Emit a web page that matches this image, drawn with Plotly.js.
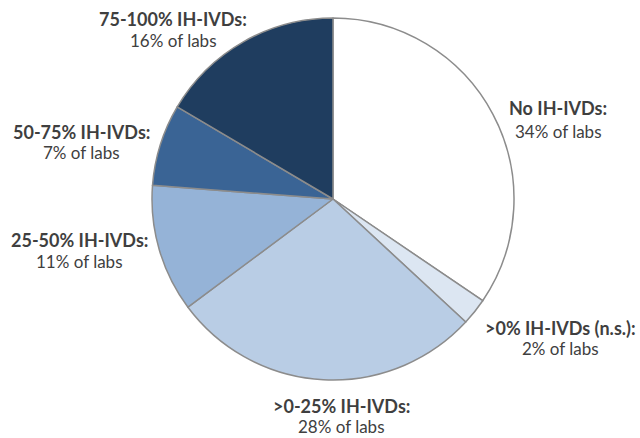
<!DOCTYPE html>
<html>
<head>
<meta charset="utf-8">
<script src="https://cdn.plot.ly/plotly-3.0.1.min.js"></script>
<style>html,body{margin:0;padding:0;background:#fff;}#chart{width:640px;height:438px;}</style>
</head>
<body>
<div id="chart"></div>
<script>
// Data (slice shares, clockwise from 12 o'clock)
const categories = ["No IH-IVDs:", ">0% IH-IVDs (n.s.):", ">0-25% IH-IVDs:", "25-50% IH-IVDs:", "50-75% IH-IVDs:", "75-100% IH-IVDs:"];
const shares = [34.5, 2.4, 27.9, 11.4, 7.3, 16.5];
const shareLabels = ["34% of labs", "2% of labs", "28% of labs", "11% of labs", "7% of labs", "16% of labs"];
const colors = ["#ffffff", "#dce6f2", "#b9cde5", "#95b3d7", "#3a6495", "#1f3d5f"];

// label placement (pixels: centre x, first-line y, second-line y)
const labelPos = [
  [558, 108, 131],
  [560, 327.5, 348],
  [341, 406, 426.5],
  [79, 240, 261],
  [81, 131.5, 152],
  [173, 19.5, 40]
];

const W = 640, H = 438;
const cx = 333, cy = 199, r = 181;

const annotations = [];
categories.forEach((c, i) => {
  const p = labelPos[i];
  annotations.push({
    text: "<b>" + c + "</b>", x: p[0] / W, y: 1 - p[1] / H, xref: "paper", yref: "paper",
    xanchor: "center", yanchor: "middle", showarrow: false,
    font: {family: "Lato, 'Open Sans', sans-serif", size: 18, color: "#3f3f3f"}
  });
  annotations.push({
    text: shareLabels[i], x: p[0] / W, y: 1 - p[2] / H, xref: "paper", yref: "paper",
    xanchor: "center", yanchor: "middle", showarrow: false,
    font: {family: "Lato, 'Open Sans', sans-serif", size: 17, color: "#404040"}
  });
});

const trace = {
  type: "pie",
  values: shares,
  labels: categories,
  sort: false,
  direction: "clockwise",
  rotation: 0,
  textinfo: "none",
  hoverinfo: "none",
  marker: {colors: colors, line: {color: "#8c8c8c", width: 1.5}},
  domain: {x: [(cx - r) / W, (cx + r) / W], y: [(H - cy - r) / H, (H - cy + r) / H]}
};

const layout = {
  width: W, height: H,
  margin: {l: 0, r: 0, t: 0, b: 0},
  paper_bgcolor: "#ffffff",
  showlegend: false,
  annotations: annotations
};

Plotly.newPlot("chart", [trace], layout, {displayModeBar: false, staticPlot: true});
</script>
</body>
</html>
